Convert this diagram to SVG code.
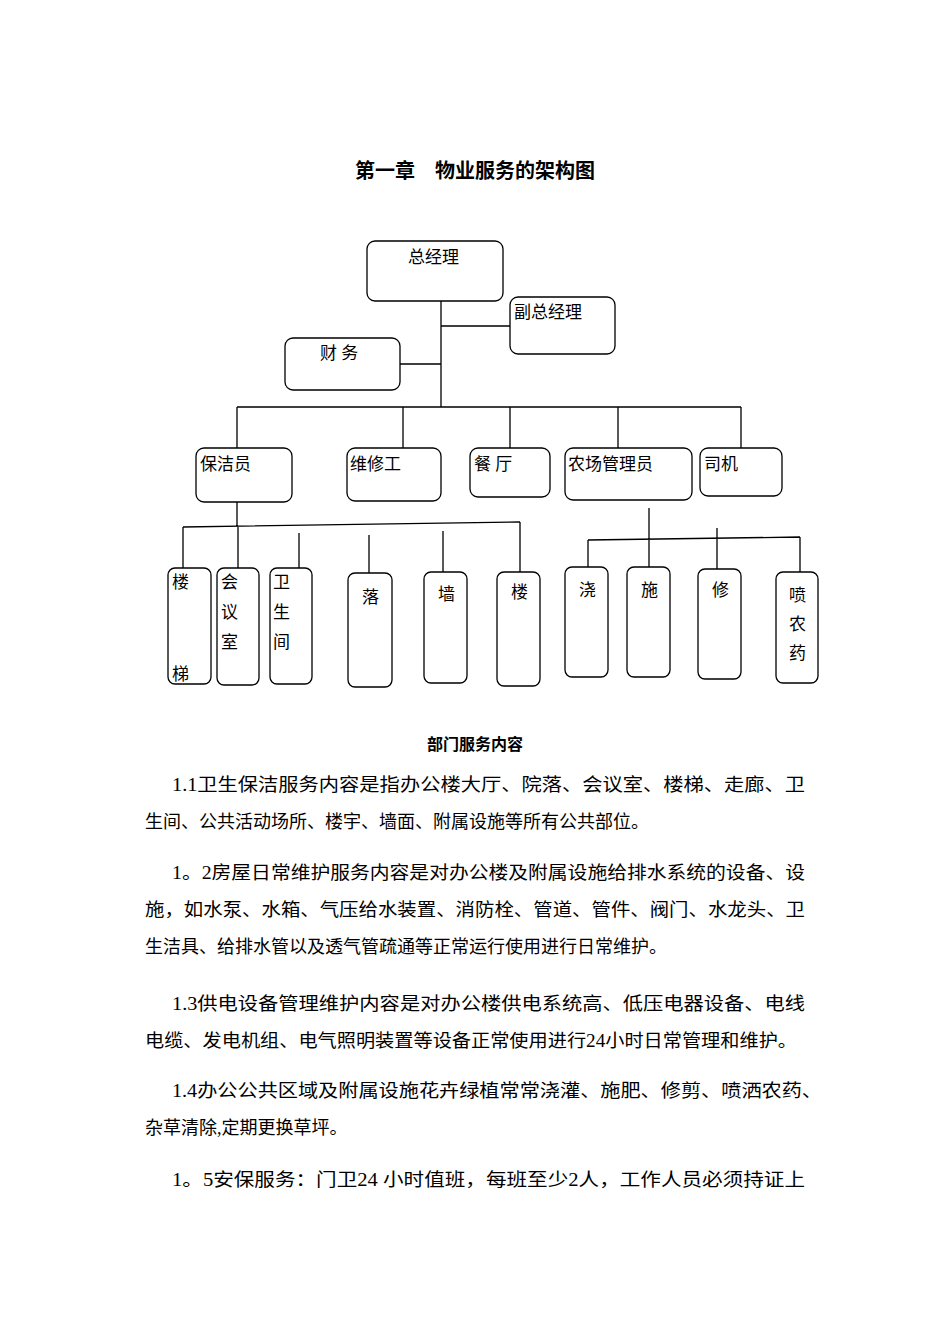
<svg xmlns="http://www.w3.org/2000/svg" width="950" height="1344" viewBox="0 0 950 1344">
<style>
text{font-family:"Liberation Serif","Noto Sans CJK SC",serif;fill:#000}
.b{fill:#fff;stroke:#000;stroke-width:1.3}
.l{stroke:#000;stroke-width:1.3;fill:none}
.n{font-size:17px}
.p{font-size:18px}
</style>
<rect width="950" height="1344" fill="#fff"/>
<text x="475" y="178" text-anchor="middle" font-size="20" font-weight="bold">第一章　物业服务的架构图</text>
<g id="connectors" class="l">
<path d="M441 301V407M441 326H510M400 364H441M237 407H741M237 407V448M403 407V448M510 407V448M618 407V448M741 407V448"/>
<path d="M237 502V527M183 527L520 522M183 527V568M238 527V568M299 533V568M369 535V573M443 531V572M520 522V572"/>
<path d="M649 508V567M588 540L800 537M588 540V567M717 528V569M800 537V572"/>
</g>
<g id="n1"><rect class="b" x="367" y="241" width="136" height="60" rx="8"/><text class="n" x="408" y="263">总经理</text></g>
<g id="n2"><rect class="b" x="510" y="297" width="105" height="57" rx="8"/><text class="n" x="514" y="318">副总经理</text></g>
<g id="n3"><rect class="b" x="285" y="338" width="115" height="52" rx="8"/><text class="n" x="320" y="359">财 务</text></g>
<g id="n4"><rect class="b" x="196" y="448" width="96" height="54" rx="8"/><text class="n" x="200" y="470">保洁员</text></g>
<g id="n5"><rect class="b" x="347" y="448" width="94" height="53" rx="8"/><text class="n" x="350" y="470">维修工</text></g>
<g id="n6"><rect class="b" x="470" y="448" width="80" height="49" rx="8"/><text class="n" x="474" y="470">餐 厅</text></g>
<g id="n7"><rect class="b" x="565" y="448" width="127" height="52" rx="8"/><text class="n" x="568" y="470">农场管理员</text></g>
<g id="n8"><rect class="b" x="700" y="448" width="82" height="48" rx="8"/><text class="n" x="704" y="470">司机</text></g>
<g id="l1"><rect class="b" x="168" y="568" width="43" height="116" rx="7"/><text class="n" x="172" y="588">楼</text><text class="n" x="172" y="680">梯</text></g>
<g id="l2"><rect class="b" x="217" y="568" width="42" height="117" rx="7"/><text class="n" x="221" y="588">会</text><text class="n" x="221" y="618">议</text><text class="n" x="221" y="648">室</text></g>
<g id="l3"><rect class="b" x="270" y="568" width="42" height="116" rx="7"/><text class="n" x="273" y="588">卫</text><text class="n" x="273" y="618">生</text><text class="n" x="273" y="648">间</text></g>
<g id="l4"><rect class="b" x="348" y="573" width="44" height="114" rx="7"/><text class="n" x="362" y="603">落</text></g>
<g id="l5"><rect class="b" x="424" y="572" width="43" height="111" rx="7"/><text class="n" x="438" y="600">墙</text></g>
<g id="l6"><rect class="b" x="497" y="572" width="43" height="114" rx="7"/><text class="n" x="511" y="598">楼</text></g>
<g id="l7"><rect class="b" x="565" y="567" width="43" height="110" rx="7"/><text class="n" x="579" y="596">浇</text></g>
<g id="l8"><rect class="b" x="627" y="567" width="43" height="110" rx="7"/><text class="n" x="641" y="596">施</text></g>
<g id="l9"><rect class="b" x="698" y="569" width="43" height="110" rx="7"/><text class="n" x="712" y="596">修</text></g>
<g id="l10"><rect class="b" x="776" y="572" width="42" height="111" rx="7"/><text class="n" x="789" y="601">喷</text><text class="n" x="789" y="630">农</text><text class="n" x="789" y="659">药</text></g>
<text x="475" y="750" text-anchor="middle" font-size="16" font-weight="bold">部门服务内容</text>
<g class="p">
<text x="172" y="791" textLength="633" lengthAdjust="spacingAndGlyphs">1.1卫生保洁服务内容是指办公楼大厅、院落、会议室、楼梯、走廊、卫</text>
<text x="145" y="828">生间、公共活动场所、楼宇、墙面、附属设施等所有公共部位。</text>
<text x="172" y="879" textLength="633" lengthAdjust="spacingAndGlyphs">1。2房屋日常维护服务内容是对办公楼及附属设施给排水系统的设备、设</text>
<text x="145" y="916" textLength="660" lengthAdjust="spacingAndGlyphs">施，如水泵、水箱、气压给水装置、消防栓、管道、管件、阀门、水龙头、卫</text>
<text x="145" y="953">生洁具、给排水管以及透气管疏通等正常运行使用进行日常维护。</text>
<text x="172" y="1010" textLength="633" lengthAdjust="spacingAndGlyphs">1.3供电设备管理维护内容是对办公楼供电系统高、低压电器设备、电线</text>
<text x="145" y="1047" textLength="652" lengthAdjust="spacingAndGlyphs">电缆、发电机组、电气照明装置等设备正常使用进行24小时日常管理和维护。</text>
<text x="172" y="1097" textLength="650" lengthAdjust="spacingAndGlyphs">1.4办公公共区域及附属设施花卉绿植常常浇灌、施肥、修剪、喷洒农药、</text>
<text x="145" y="1134">杂草清除,定期更换草坪。</text>
<text x="172" y="1186" textLength="633" lengthAdjust="spacingAndGlyphs">1。5安保服务：门卫24 小时值班，每班至少2人，工作人员必须持证上</text>
</g>
</svg>
